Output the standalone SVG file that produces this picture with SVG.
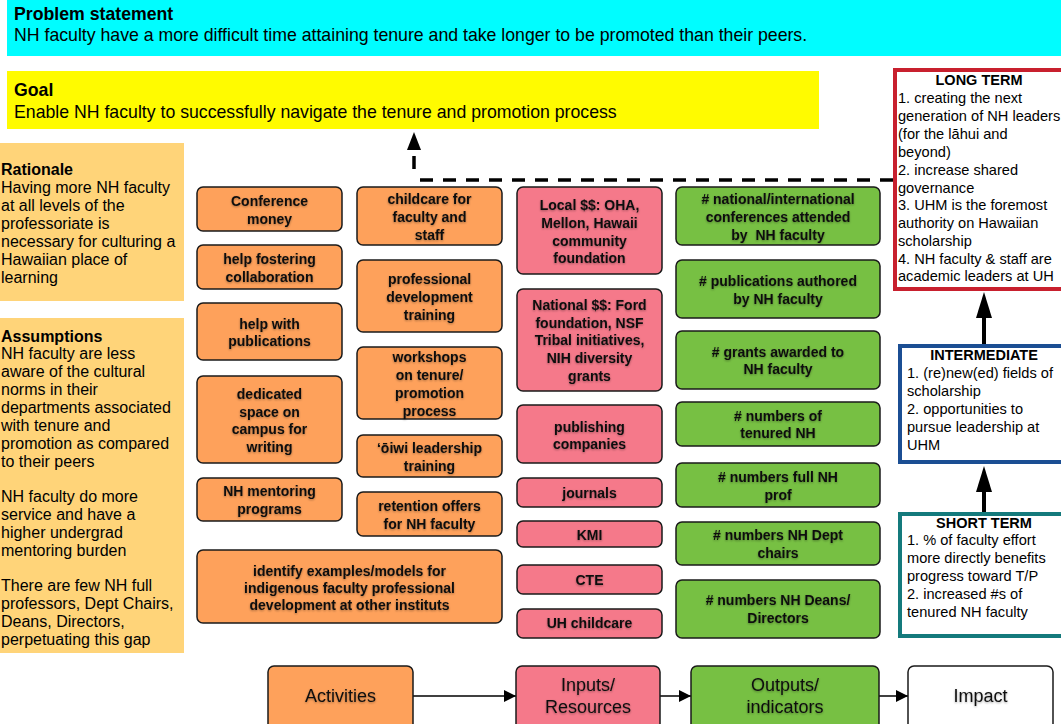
<svg xmlns="http://www.w3.org/2000/svg" width="1061" height="724" viewBox="0 0 1061 724">
<style>
.hdr{font-family:"Liberation Sans",Arial,sans-serif;font-size:17.7px;fill:#000}
.side{font-family:"Liberation Sans",Arial,sans-serif;font-size:16px;fill:#000}
.imp{font-family:"Liberation Sans",Arial,sans-serif;font-size:14.6px;fill:#000}
.imph{font-family:"Liberation Sans",Arial,sans-serif;font-size:14.5px;font-weight:bold;fill:#000;text-anchor:middle}
.b{font-weight:bold}
.box{stroke:#1a1a1a;stroke-width:1.5}
.act{fill:#FEA15B}
.inp{fill:#F5798A}
.out{fill:#77C043}
.lbl{font-family:"Liberation Sans",Arial,sans-serif;font-size:14px;font-weight:bold;fill:#111;text-anchor:middle;filter:url(#ts)}
.big{font-family:"Liberation Sans",Arial,sans-serif;font-size:18px;fill:#111;text-anchor:middle;filter:url(#ts)}
.conn{fill:none;stroke:#000;stroke-width:1.5}
.dash{fill:none;stroke:#000;stroke-width:3.5;stroke-dasharray:13 10}
.thick{fill:none;stroke:#000;stroke-width:4}
</style>
<defs>
<filter id="ts" x="-10%" y="-30%" width="120%" height="160%">
<feDropShadow dx="0" dy="1" stdDeviation="1.1" flood-color="#000" flood-opacity="0.35"/>
</filter>
<marker id="ah" viewBox="0 0 12 12" refX="12" refY="6" markerWidth="12" markerHeight="12" markerUnits="userSpaceOnUse" orient="auto">
<path d="M0,0 L12,6 L0,12 z" fill="#000"/>
</marker>
</defs>

<g id="problem">
<rect x="7" y="0" width="1054" height="56" fill="#00FDFF"/>
<text class="hdr b" x="14" y="20">Problem statement</text>
<text class="hdr" x="14" y="41">NH faculty have a more difficult time attaining tenure and take longer to be promoted than their peers.</text>
</g>

<g id="goal">
<rect x="7" y="71" width="812" height="58" fill="#FFFB00"/>
<text class="hdr b" x="14" y="96">Goal</text>
<text class="hdr" x="14" y="118">Enable NH faculty to successfully navigate the tenure and promotion process</text>
</g>

<g id="rationale">
<rect x="0" y="143" width="184" height="158" fill="#FFD479"/>
<text class="side" x="1" y="175"><tspan class="b">Rationale</tspan><tspan x="1" y="193">Having more NH faculty</tspan><tspan x="1" y="211">at all levels of the</tspan><tspan x="1" y="229">professoriate is</tspan><tspan x="1" y="247">necessary for culturing a</tspan><tspan x="1" y="265">Hawaiian place of</tspan><tspan x="1" y="283">learning</tspan></text>
</g>

<g id="assumptions">
<rect x="0" y="318" width="184" height="335" fill="#FFD479"/>
<text class="side" x="1" y="342"><tspan class="b">Assumptions</tspan><tspan x="1" y="359">NH faculty are less</tspan><tspan x="1" y="377">aware of the cultural</tspan><tspan x="1" y="395">norms in their</tspan><tspan x="1" y="413">departments associated</tspan><tspan x="1" y="431">with tenure and</tspan><tspan x="1" y="449">promotion as compared</tspan><tspan x="1" y="467">to their peers</tspan><tspan x="1" y="502">NH faculty do more</tspan><tspan x="1" y="520">service and have a</tspan><tspan x="1" y="538">higher undergrad</tspan><tspan x="1" y="556">mentoring burden</tspan><tspan x="1" y="591">There are few NH full</tspan><tspan x="1" y="609">professors, Dept Chairs,</tspan><tspan x="1" y="627">Deans, Directors,</tspan><tspan x="1" y="645">perpetuating this gap</tspan></text>
</g>

<g id="connectors">
<path class="dash" d="M893,180 H414"/>
<path class="dash" d="M414,169 V153"/>
<path d="M414,132 L421,150 L407,150 z" fill="#000"/>
<line class="thick" x1="984" y1="344" x2="984" y2="316"/>
<path d="M984,292 L992,318 L976,318 z" fill="#000"/>
<line class="thick" x1="984" y1="512" x2="984" y2="490"/>
<path d="M984,466 L992,492 L976,492 z" fill="#000"/>
<line class="conn" x1="413" y1="696" x2="516" y2="696" marker-end="url(#ah)"/>
<line class="conn" x1="660" y1="696" x2="691" y2="696" marker-end="url(#ah)"/>
<line class="conn" x1="879" y1="696" x2="908" y2="696" marker-end="url(#ah)"/>
</g>

<g id="a1"><rect class="box act" x="197" y="187" width="145" height="44" rx="6"/><text class="lbl" x="269.5" y="206">Conference<tspan x="269.5" y="224">money</tspan></text></g>
<g id="a2"><rect class="box act" x="197" y="245" width="145" height="44" rx="6"/><text class="lbl" x="269.5" y="264">help fostering<tspan x="269.5" y="282">collaboration</tspan></text></g>
<g id="a3"><rect class="box act" x="197" y="303" width="145" height="57" rx="6"/><text class="lbl" x="269.5" y="329">help with<tspan x="269.5" y="346">publications</tspan></text></g>
<g id="a4"><rect class="box act" x="197" y="376" width="145" height="87" rx="6"/><text class="lbl" x="269.5" y="399">dedicated<tspan x="269.5" y="417">space on</tspan><tspan x="269.5" y="434">campus for</tspan><tspan x="269.5" y="452">writing</tspan></text></g>
<g id="a5"><rect class="box act" x="197" y="478" width="145" height="43" rx="6"/><text class="lbl" x="269.5" y="496">NH mentoring<tspan x="269.5" y="514">programs</tspan></text></g>
<g id="a6"><rect class="box act" x="197" y="550" width="305" height="73" rx="6"/><text class="lbl" x="349.5" y="576">identify examples/models for<tspan x="349.5" y="593">indigenous faculty professional</tspan><tspan x="349.5" y="610">development at other instituts</tspan></text></g>

<g id="b1"><rect class="box act" x="357" y="187" width="145" height="58" rx="6"/><text class="lbl" x="429.5" y="204">childcare for<tspan x="429.5" y="222">faculty and</tspan><tspan x="429.5" y="240">staff</tspan></text></g>
<g id="b2"><rect class="box act" x="357" y="260" width="145" height="72" rx="6"/><text class="lbl" x="429.5" y="284">professional<tspan x="429.5" y="302">development</tspan><tspan x="429.5" y="320">training</tspan></text></g>
<g id="b3"><rect class="box act" x="357" y="347" width="145" height="72" rx="6"/><text class="lbl" x="429.5" y="362">workshops<tspan x="429.5" y="380">on tenure/</tspan><tspan x="429.5" y="398">promotion</tspan><tspan x="429.5" y="416">process</tspan></text></g>
<g id="b4"><rect class="box act" x="357" y="435" width="145" height="42" rx="6"/><text class="lbl" x="429.5" y="453">ʻōiwi leadership<tspan x="429.5" y="471">training</tspan></text></g>
<g id="b5"><rect class="box act" x="357" y="492" width="145" height="44" rx="6"/><text class="lbl" x="429.5" y="511">retention offers<tspan x="429.5" y="529">for NH faculty</tspan></text></g>

<g id="c1"><rect class="box inp" x="517" y="187" width="145" height="87" rx="6"/><text class="lbl" x="589.5" y="210">Local $$: OHA,<tspan x="589.5" y="228">Mellon, Hawaii</tspan><tspan x="589.5" y="246">community</tspan><tspan x="589.5" y="263">foundation</tspan></text></g>
<g id="c2"><rect class="box inp" x="517" y="289" width="145" height="102" rx="6"/><text class="lbl" x="589.5" y="310">National $$: Ford<tspan x="589.5" y="328">foundation, NSF</tspan><tspan x="589.5" y="345">Tribal initiatives,</tspan><tspan x="589.5" y="363">NIH diversity</tspan><tspan x="589.5" y="381">grants</tspan></text></g>
<g id="c3"><rect class="box inp" x="517" y="405" width="145" height="58" rx="6"/><text class="lbl" x="589.5" y="432">publishing<tspan x="589.5" y="449">companies</tspan></text></g>
<g id="c4"><rect class="box inp" x="517" y="478" width="145" height="29" rx="6"/><text class="lbl" x="589.5" y="498">journals</text></g>
<g id="c5"><rect class="box inp" x="517" y="521" width="145" height="26" rx="6"/><text class="lbl" x="589.5" y="540">KMI</text></g>
<g id="c6"><rect class="box inp" x="517" y="565" width="145" height="29" rx="6"/><text class="lbl" x="589.5" y="585">CTE</text></g>
<g id="c7"><rect class="box inp" x="517" y="609" width="145" height="29" rx="6"/><text class="lbl" x="589.5" y="628">UH childcare</text></g>

<g id="d1"><rect class="box out" x="676" y="187" width="204" height="58" rx="6"/><text class="lbl" x="778" y="204" xml:space="preserve"># national/international<tspan x="778" y="222">conferences attended</tspan><tspan x="778" y="240">by  NH faculty</tspan></text></g>
<g id="d2"><rect class="box out" x="676" y="260" width="204" height="58" rx="6"/><text class="lbl" x="778" y="286"># publications authored<tspan x="778" y="304">by NH faculty</tspan></text></g>
<g id="d3"><rect class="box out" x="676" y="331" width="204" height="58" rx="6"/><text class="lbl" x="778" y="357"># grants awarded to<tspan x="778" y="374">NH faculty</tspan></text></g>
<g id="d4"><rect class="box out" x="676" y="402" width="204" height="44" rx="6"/><text class="lbl" x="778" y="421"># numbers of<tspan x="778" y="438">tenured NH</tspan></text></g>
<g id="d5"><rect class="box out" x="676" y="463" width="204" height="44" rx="6"/><text class="lbl" x="778" y="482"># numbers full NH<tspan x="778" y="500">prof</tspan></text></g>
<g id="d6"><rect class="box out" x="676" y="522" width="204" height="43" rx="6"/><text class="lbl" x="778" y="540"># numbers NH Dept<tspan x="778" y="558">chairs</tspan></text></g>
<g id="d7"><rect class="box out" x="676" y="580" width="204" height="58" rx="6"/><text class="lbl" x="778" y="605"># numbers NH Deans/<tspan x="778" y="623">Directors</tspan></text></g>

<g id="longterm">
<rect x="895" y="70" width="175" height="219" fill="#fff" stroke="#C8202E" stroke-width="4"/>
<text class="imph" x="979" y="85">LONG TERM</text>
<text class="imp" x="898" y="103">1. creating the next<tspan x="898" y="121">generation of NH leaders</tspan><tspan x="898" y="139">(for the lāhui and</tspan><tspan x="898" y="157">beyond)</tspan><tspan x="898" y="175">2. increase shared</tspan><tspan x="898" y="193">governance</tspan><tspan x="898" y="210">3. UHM is the foremost</tspan><tspan x="898" y="228">authority on Hawaiian</tspan><tspan x="898" y="246">scholarship</tspan><tspan x="898" y="264">4. NH faculty &amp; staff are</tspan><tspan x="898" y="281">academic leaders at UH</tspan></text>
</g>

<g id="intermediate">
<rect x="900" y="346" width="170" height="116" fill="#fff" stroke="#1B4E93" stroke-width="4"/>
<text class="imph" x="984" y="360">INTERMEDIATE</text>
<text class="imp" x="907" y="378">1. (re)new(ed) fields of<tspan x="907" y="396">scholarship</tspan><tspan x="907" y="414">2. opportunities to</tspan><tspan x="907" y="432">pursue leadership at</tspan><tspan x="907" y="450">UHM</tspan></text>
</g>

<g id="shortterm">
<rect x="900" y="514" width="170" height="122" fill="#fff" stroke="#147A7C" stroke-width="4"/>
<text class="imph" x="984" y="528">SHORT TERM</text>
<text class="imp" x="907" y="545">1. % of faculty effort<tspan x="907" y="563">more directly benefits</tspan><tspan x="907" y="581">progress toward T/P</tspan><tspan x="907" y="599">2. increased #s of</tspan><tspan x="907" y="617">tenured NH faculty</tspan></text>
</g>

<g id="legend-activities"><rect class="box act" x="268" y="666" width="145" height="70" rx="6"/><text class="big" x="340.5" y="702">Activities</text></g>
<g id="legend-inputs"><rect class="box inp" x="516" y="666" width="144" height="70" rx="6"/><text class="big" x="588" y="691">Inputs/<tspan x="588" y="713">Resources</tspan></text></g>
<g id="legend-outputs"><rect class="box out" x="691" y="666" width="188" height="70" rx="6"/><text class="big" x="785" y="691">Outputs/<tspan x="785" y="713">indicators</tspan></text></g>
<g id="legend-impact"><rect class="box" x="908" y="666" width="145" height="70" rx="6" fill="#fff"/><text class="big" x="980.5" y="702">Impact</text></g>
</svg>
